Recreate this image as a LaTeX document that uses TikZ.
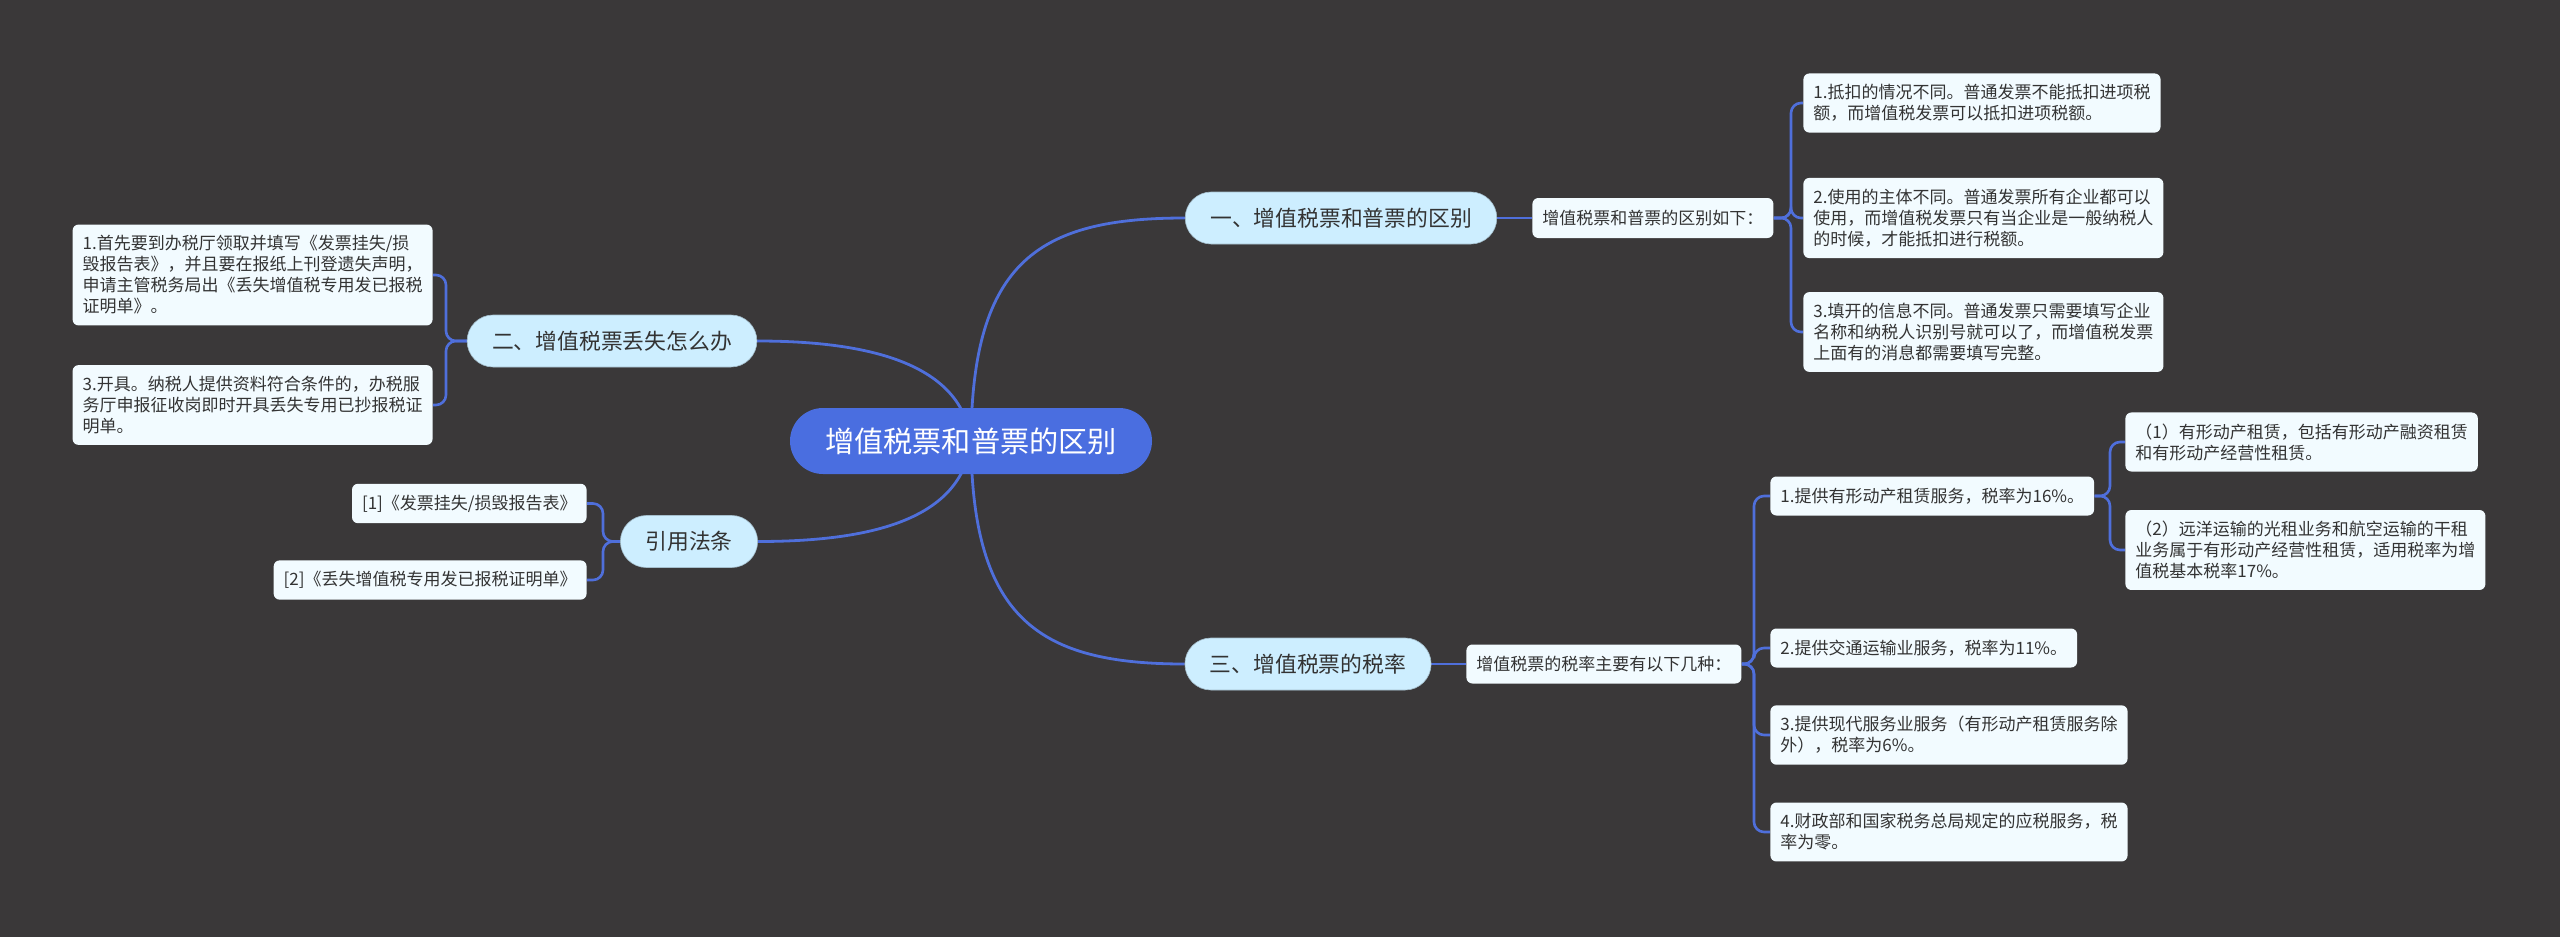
\documentclass[tikz,border=0pt]{standalone}
\usepackage{fontspec}
\setmainfont{Noto Sans CJK SC}
\definecolor{bgc}{HTML}{3A3839}
\definecolor{rootc}{HTML}{4A6EE0}
\definecolor{topc}{HTML}{CDEEFF}
\definecolor{leafc}{HTML}{F2FBFF}
\definecolor{linec}{HTML}{4F6FDB}
\definecolor{textc}{HTML}{333333}
\pgfdeclarelayer{bglayer}
\pgfdeclarelayer{lines}
\pgfsetlayers{bglayer,lines,main}
\begin{document}
\begin{tikzpicture}[x=0.5pt,y=-0.5pt,
  conn/.style={draw=linec, line width=1.4pt},
  bracket/.style={draw=linec, line width=1.3pt, rounded corners=5pt},
  rootbox/.style={fill=rootc, text=white, rounded corners=16.5pt, minimum height=33pt, inner xsep=17.5pt, inner ysep=0pt, font=\fontsize{14.6pt}{17pt}\selectfont},
  topicbox/.style={fill=topc, draw=topc!80!black, line width=0.3pt, text=textc, rounded corners=13pt, minimum height=26pt, inner xsep=12.5pt, inner ysep=0pt, font=\fontsize{10.9pt}{13pt}\selectfont},
  leafbox/.style={fill=leafc, text=textc, rounded corners=3pt, inner xsep=5pt, inner ysep=5.5pt, align=left, font=\fontsize{8.5pt}{10.5pt}\selectfont},
]
\begin{pgfonlayer}{bglayer}
\fill[bgc] (0,0) rectangle (2560,937);
\end{pgfonlayer}
\useasboundingbox (0,0) rectangle (2560,937);

% main nodes
\node[rootbox] (root) at (971,441) {增值税票和普票的区别};
\node[topicbox] (n1) at (1341,218) {一、增值税票和普票的区别};
\node[topicbox] (n3) at (1308,664) {三、增值税票的税率};
\node[topicbox] (n2) at (612,341) {二、增值税票丢失怎么办};
\node[topicbox] (n4) at (689,541.5) {引用法条};

% branch 1
\node[leafbox, anchor=west, minimum height=20pt] (n1leaf) at (1532,218) {增值税票和普票的区别如下：};
\node[leafbox, anchor=west] (a1) at (1803,103) {1.抵扣的情况不同。普通发票不能抵扣进项税\\额，而增值税发票可以抵扣进项税额。};
\node[leafbox, anchor=west] (a2) at (1803,218) {2.使用的主体不同。普通发票所有企业都可以\\使用，而增值税发票只有当企业是一般纳税人\\的时候，才能抵扣进行税额。};
\node[leafbox, anchor=west] (a3) at (1803,332) {3.填开的信息不同。普通发票只需要填写企业\\名称和纳税人识别号就可以了，而增值税发票\\上面有的消息都需要填写完整。};

% branch 3
\node[leafbox, anchor=west, minimum height=19.5pt] (n3leaf) at (1466,664) {增值税票的税率主要有以下几种：};
\node[leafbox, anchor=west, minimum height=19.5pt] (l1) at (1770,496) {1.提供有形动产租赁服务，税率为16\%。};
\node[leafbox, anchor=west] (s1) at (2125,442) {（1）有形动产租赁，包括有形动产融资租赁\\和有形动产经营性租赁。};
\node[leafbox, anchor=west] (s2) at (2125,550) {（2）远洋运输的光租业务和航空运输的干租\\业务属于有形动产经营性租赁，适用税率为增\\值税基本税率17\%。};
\node[leafbox, anchor=west, minimum height=19.5pt] (l2) at (1770,648) {2.提供交通运输业服务，税率为11\%。};
\node[leafbox, anchor=west] (l3) at (1770,735) {3.提供现代服务业服务（有形动产租赁服务除\\外），税率为6\%。};
\node[leafbox, anchor=west] (l4) at (1770,832) {4.财政部和国家税务总局规定的应税服务，税\\率为零。};

% branch 2
\node[leafbox, anchor=east] (b1) at (433,275) {1.首先要到办税厅领取并填写《发票挂失/损\\毁报告表》，并且要在报纸上刊登遗失声明，\\申请主管税务局出《丢失增值税专用发已报税\\证明单》。};
\node[leafbox, anchor=east] (b2) at (433,405) {3.开具。纳税人提供资料符合条件的，办税服\\务厅申报征收岗即时开具丢失专用已抄报税证\\明单。};

% branch 4
\node[leafbox, anchor=east, minimum height=19.5pt] (c1) at (587,503.5) {[1]《发票挂失/损毁报告表》};
\node[leafbox, anchor=east, minimum height=19.5pt] (c2) at (587,580) {[2]《丢失增值税专用发已报税证明单》};

% spine coordinates
\coordinate (sp1) at (1791,218);
\coordinate (sp3) at (1754,664);
\coordinate (spl1) at (2110,496);
\coordinate (sp2) at (446,341);
\coordinate (sp4) at (603,541.5);

\begin{pgfonlayer}{lines}
\draw[conn] (root.center) .. controls (972,260) and (1040,218) .. (n1.west);
\draw[conn] (root.center) .. controls (972,620) and (1040,664) .. (n3.west);
\draw[conn] (root.center) .. controls (962,364) and (870,341) .. (n2.east);
\draw[conn] (root.center) .. controls (962,520) and (870,541.5) .. (n4.east);

\draw[conn] (n1.east) -- (n1leaf.west);
\draw[conn] (n3.east) -- (n3leaf.west);

\draw[bracket] (n1leaf.east) -- (sp1) |- (a1.west);
\draw[bracket] (n1leaf.east) -- (sp1) |- (a2.west);
\draw[bracket] (n1leaf.east) -- (sp1) |- (a3.west);

\draw[bracket] (n3leaf.east) -- (sp3) |- (l1.west);
\draw[bracket] (n3leaf.east) -- (sp3) |- (l2.west);
\draw[bracket] (n3leaf.east) -- (sp3) |- (l3.west);
\draw[bracket] (n3leaf.east) -- (sp3) |- (l4.west);

\draw[bracket] (l1.east) -- (spl1) |- (s1.west);
\draw[bracket] (l1.east) -- (spl1) |- (s2.west);

\draw[bracket] (n2.west) -- (sp2) |- (b1.east);
\draw[bracket] (n2.west) -- (sp2) |- (b2.east);

\draw[bracket] (n4.west) -- (sp4) |- (c1.east);
\draw[bracket] (n4.west) -- (sp4) |- (c2.east);
\end{pgfonlayer}
\end{tikzpicture}
\end{document}
